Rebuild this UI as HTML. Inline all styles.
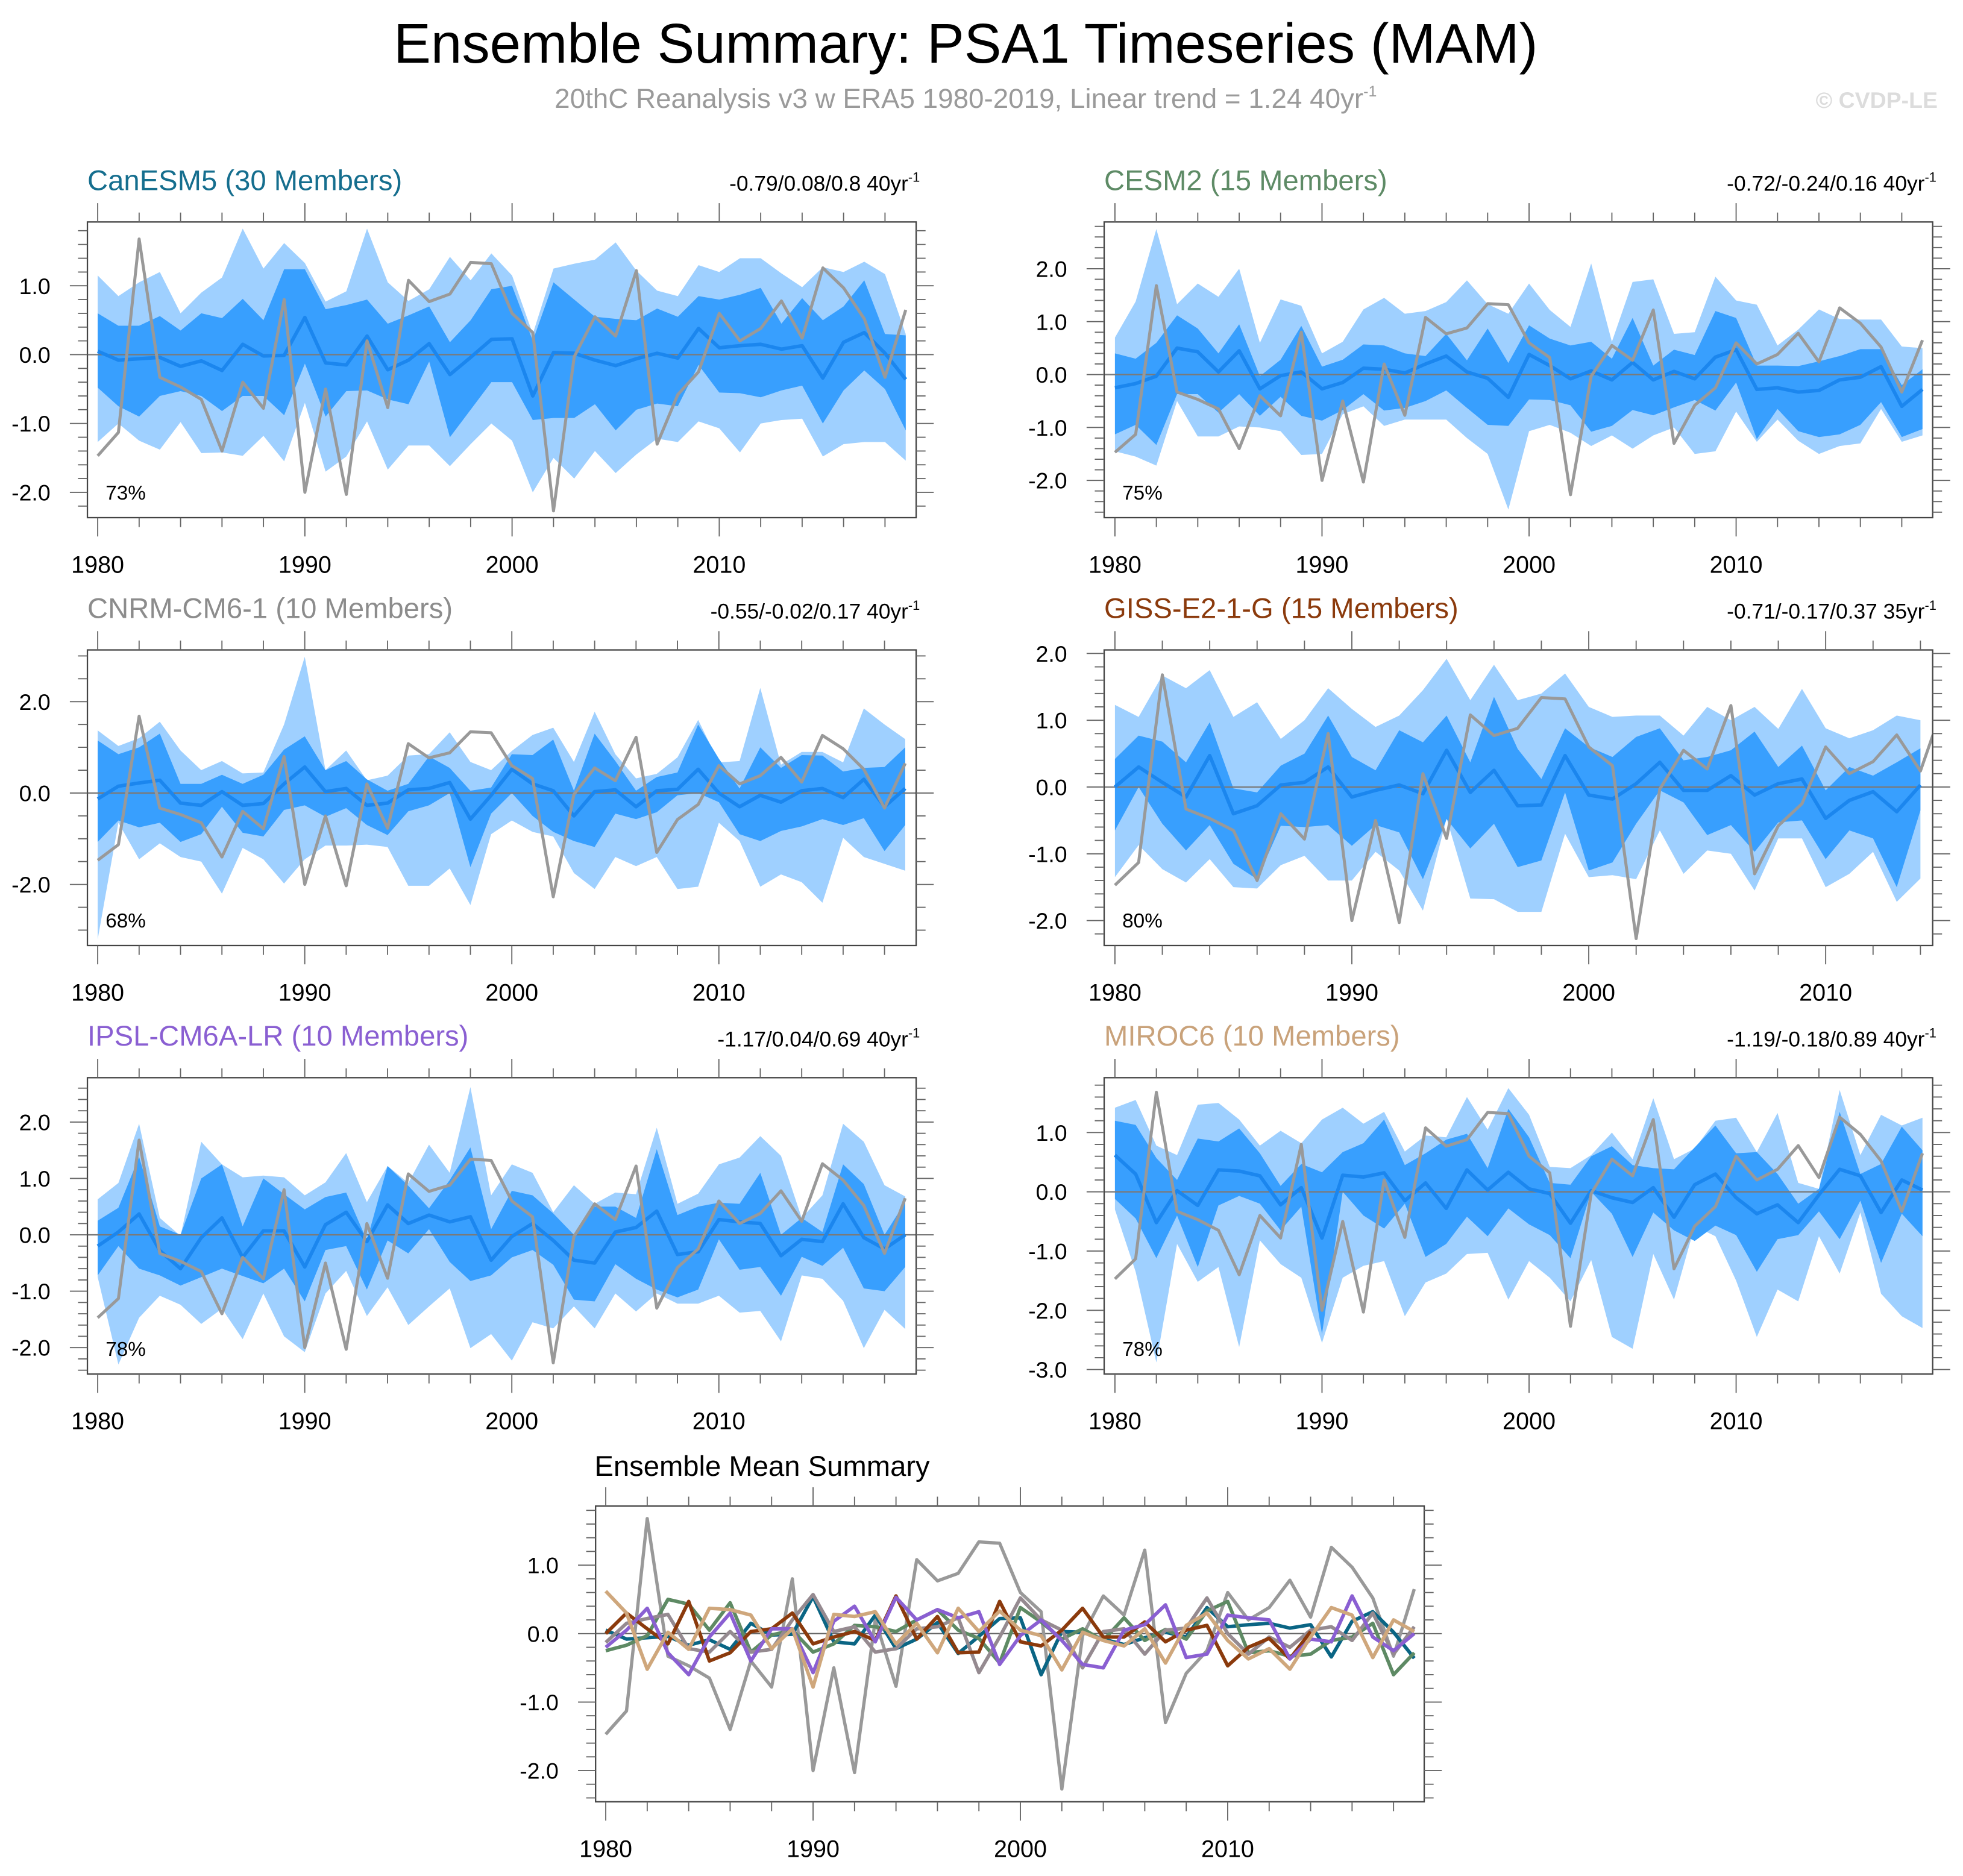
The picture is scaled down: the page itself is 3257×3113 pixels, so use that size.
<!DOCTYPE html>
<html><head><meta charset="utf-8"><style>
html,body{margin:0;padding:0;background:#fff}
svg{display:block}
text{font-family:"Liberation Sans",Arial,sans-serif}
</style></head><body>
<svg id="fig" xmlns="http://www.w3.org/2000/svg" width="3257" height="3113" viewBox="0 0 1565.2 1496">
<rect x="0" y="0" width="1565.2" height="1496" fill="#fff"/>
<text x="770" y="50" font-size="44.5" text-anchor="middle" fill="#000">Ensemble Summary: PSA1 Timeseries (MAM)</text>
<text x="770" y="86" font-size="22" text-anchor="middle" fill="#9a9a9a">20thC Reanalysis v3 w ERA5 1980-2019, Linear trend = 1.24 40yr<tspan dy="-9" font-size="12">-1</tspan></text>
<text x="1545" y="86" font-size="18" font-weight="bold" text-anchor="end" fill="#dcdcdc">© CVDP-LE</text>
<g id="panels"></g>
</svg>
<script>
const years = [1980,1981,1982,1983,1984,1985,1986,1987,1988,1989,1990,1991,1992,1993,1994,1995,1996,1997,1998,1999,2000,2001,2002,2003,2004,2005,2006,2007,2008,2009,2010,2011,2012,2013,2014,2015,2016,2017,2018,2019];
const obs = [-1.47,-1.13,1.68,-0.33,-0.47,-0.65,-1.4,-0.4,-0.78,0.8,-2.0,-0.5,-2.03,0.2,-0.77,1.08,0.77,0.88,1.34,1.32,0.6,0.32,-2.27,-0.03,0.55,0.27,1.22,-1.3,-0.58,-0.25,0.6,0.2,0.38,0.78,0.24,1.26,0.97,0.52,-0.33,0.65];

const canMean = [0.05,-0.08,-0.06,-0.04,-0.17,-0.09,-0.23,0.15,-0.02,-0.01,0.54,-0.12,-0.15,0.27,-0.22,-0.08,0.16,-0.29,-0.04,0.22,0.23,-0.6,0.03,0.02,-0.08,-0.16,-0.06,0.02,-0.05,0.38,0.1,0.13,0.15,0.08,0.13,-0.34,0.18,0.32,0.02,-0.36];
const canHi1 = [0.6,0.42,0.42,0.56,0.35,0.6,0.53,0.81,0.5,1.24,1.24,0.66,0.72,0.8,0.45,0.57,0.7,0.18,0.5,0.95,1.0,0.2,1.05,0.8,0.55,0.52,0.5,0.67,0.55,0.85,0.8,0.87,0.97,0.45,0.82,0.5,0.7,1.08,0.3,0.28];
const canLo1 = [-0.48,-0.75,-0.9,-0.6,-0.53,-0.6,-0.82,-0.6,-0.6,-0.88,-0.13,-0.9,-0.53,-0.52,-0.65,-0.72,-0.1,-1.2,-0.8,-0.4,-0.4,-0.95,-0.92,-0.92,-0.72,-1.1,-0.8,-0.71,-0.75,-0.15,-0.55,-0.56,-0.62,-0.52,-0.45,-1.0,-0.52,-0.23,-0.5,-1.1];
const canHi2 = [1.15,0.85,1.05,1.2,0.6,0.9,1.12,1.83,1.25,1.62,1.33,0.77,0.92,1.83,1.05,0.78,0.95,1.42,1.08,1.47,1.15,0.3,1.25,1.32,1.38,1.63,1.22,0.93,0.85,1.3,1.2,1.4,1.4,1.18,0.98,1.27,1.2,1.35,1.17,0.3];
const canLo2 = [-1.27,-1.0,-1.25,-1.38,-0.98,-1.43,-1.42,-1.47,-1.18,-1.55,-0.7,-1.7,-1.48,-0.97,-1.67,-1.32,-1.32,-1.62,-1.3,-1.0,-1.25,-2.0,-1.5,-1.8,-1.4,-1.72,-1.45,-1.22,-1.27,-0.97,-1.07,-1.42,-1.0,-0.95,-0.93,-1.48,-1.3,-1.27,-1.27,-1.54];

const cesmMean = [-0.25,-0.17,-0.03,0.5,0.43,0.05,0.45,-0.27,-0.02,0.05,-0.27,-0.15,0.12,0.1,0.03,0.2,0.35,0.05,-0.07,-0.43,0.38,0.17,-0.08,0.07,-0.1,0.23,-0.1,0.06,-0.08,0.33,0.47,-0.28,-0.25,-0.33,-0.3,-0.1,-0.05,0.15,-0.6,-0.28];
const cesmHi1 = [0.4,0.3,0.6,1.12,0.87,0.4,0.95,-0.03,0.28,0.92,0.15,0.28,0.57,0.55,0.4,0.35,0.77,0.27,0.87,0.22,0.93,0.68,0.55,0.62,0.3,1.07,0.17,0.47,0.37,1.2,1.07,0.17,0.17,0.16,0.25,0.35,0.48,0.48,-0.2,0.1];
const cesmLo1 = [-1.13,-0.95,-1.33,-0.37,-0.37,-0.72,-0.37,-0.78,-0.42,-0.78,-0.87,-0.67,-0.37,-0.68,-0.63,-0.5,-0.3,-0.63,-0.95,-0.97,-0.47,-0.48,-0.58,-1.08,-0.97,-0.67,-0.77,-0.62,-0.48,-0.68,-0.15,-1.22,-0.65,-1.07,-1.18,-1.13,-0.95,-0.52,-1.18,-1.03];
const cesmHi2 = [0.7,1.38,2.75,1.33,1.72,1.47,2.0,0.6,1.42,1.3,0.4,0.62,1.23,1.45,1.15,1.2,1.37,1.78,1.33,1.15,1.72,1.22,0.9,2.1,0.62,1.75,1.8,0.77,0.8,1.85,1.4,1.32,0.55,0.85,1.23,1.05,1.04,1.04,0.53,0.5];
const cesmLo2 = [-1.45,-1.55,-1.72,-0.5,-1.17,-1.17,-0.98,-1.0,-1.07,-1.52,-1.5,-0.75,-0.6,-0.97,-0.85,-0.85,-0.85,-1.2,-1.5,-2.55,-1.07,-0.95,-1.1,-1.35,-1.15,-1.4,-1.15,-1.0,-1.5,-1.45,-0.7,-1.27,-0.85,-1.25,-1.5,-1.35,-1.3,-0.65,-1.27,-1.15];

const cnrmMean = [-0.13,0.15,0.22,0.28,-0.22,-0.27,0.03,-0.27,-0.23,0.2,0.57,0.03,0.1,-0.27,-0.22,0.07,0.1,0.23,-0.57,-0.05,0.52,0.2,0.05,-0.5,0.03,0.07,-0.3,0.05,0.08,0.52,0.0,-0.3,-0.05,-0.2,0.05,0.1,-0.1,0.3,-0.3,0.1];
const cnrmHi1 = [1.15,0.85,1.0,1.3,0.2,0.2,0.4,0.2,0.4,0.95,1.24,0.5,0.7,0.3,0.05,0.2,0.8,0.55,0.05,0.12,0.85,0.83,1.17,0.05,1.3,0.7,0.05,0.35,0.45,1.5,0.75,0.1,1.0,0.55,0.83,0.82,0.47,0.55,0.57,1.0];
const cnrmLo1 = [-1.07,-0.6,-0.75,-0.65,-1.07,-0.9,-0.3,-0.87,-0.95,-0.37,-0.27,-0.52,-0.33,-0.7,-0.92,-0.4,-0.27,0.0,-1.62,-0.45,0.0,-0.5,-0.85,-1.05,-1.18,-0.45,-0.57,-0.42,-0.05,0.0,-0.2,-0.9,-1.05,-0.83,-0.73,-0.57,-0.7,-0.55,-1.27,-0.7];
const cnrmHi2 = [1.37,1.03,1.2,1.56,0.93,0.5,0.7,0.43,0.45,1.5,2.98,0.5,0.93,0.28,0.38,0.82,0.85,1.33,0.68,0.5,0.92,1.27,1.43,0.68,1.78,0.85,0.32,0.42,0.78,1.6,0.67,0.7,2.3,0.62,0.9,0.9,0.67,1.85,1.5,1.18];
const cnrmLo2 = [-3.2,-0.65,-1.45,-1.1,-1.4,-1.5,-2.2,-1.2,-1.45,-1.98,-1.45,-1.15,-1.15,-1.13,-1.18,-2.03,-2.03,-1.65,-2.45,-0.9,-0.6,-0.85,-0.95,-1.75,-2.1,-1.4,-1.6,-1.4,-2.1,-2.05,-0.65,-1.05,-2.05,-1.78,-1.95,-2.4,-0.98,-1.4,-1.55,-1.7];

const gissMean = [0.0,0.3,0.07,-0.15,0.47,-0.4,-0.28,0.03,0.07,0.3,-0.15,-0.05,0.03,-0.1,0.55,-0.08,0.25,-0.28,-0.27,0.47,-0.12,-0.18,0.05,0.37,-0.05,-0.05,0.17,-0.12,0.05,0.12,-0.47,-0.2,-0.07,-0.37,0.03];
const gissHi1 = [0.42,0.77,0.68,0.37,0.97,-0.02,-0.08,0.32,0.5,1.07,0.45,0.25,0.85,0.67,1.07,0.37,1.35,0.57,0.12,0.88,0.6,0.45,0.75,0.88,0.4,0.45,0.55,0.83,0.3,0.62,-0.05,0.3,0.17,0.37,0.58];
const gissLo1 = [-0.65,0.0,-0.55,-0.95,-0.57,-1.15,-1.38,-0.58,-0.6,-0.57,-0.88,-0.57,-0.68,-1.38,-0.48,-0.92,-0.55,-1.2,-1.1,-0.08,-1.25,-1.13,-0.55,-0.05,-0.23,-0.72,-0.57,-0.97,-0.53,-0.5,-1.08,-0.65,-0.77,-1.5,-0.35];
const gissHi2 = [1.23,1.05,1.67,1.48,1.75,1.05,1.27,0.72,1.0,1.48,1.17,0.9,1.07,1.45,1.92,1.3,1.83,1.3,1.4,1.7,1.2,1.05,1.07,1.07,0.77,1.2,1.0,1.2,0.87,1.47,0.88,0.73,0.85,1.07,1.0];
const gissLo2 = [-1.35,-0.87,-1.23,-1.43,-1.08,-1.5,-1.52,-1.17,-1.03,-1.4,-1.4,-0.97,-1.25,-1.85,-0.47,-1.67,-1.68,-1.87,-1.87,-0.7,-1.35,-1.32,-1.38,-0.65,-1.3,-0.95,-1.0,-1.55,-0.77,-0.77,-1.5,-1.3,-0.97,-1.72,-1.37];

const ipslMean = [-0.2,0.05,0.37,-0.28,-0.6,-0.05,0.3,-0.4,0.07,0.07,-0.57,0.18,0.4,-0.12,0.53,0.2,0.35,0.23,0.32,-0.45,-0.03,0.2,-0.1,-0.45,-0.5,0.05,0.13,0.42,-0.35,-0.3,0.27,0.23,0.2,-0.37,-0.08,-0.12,0.55,-0.05,-0.25,0.0];
const ipslHi1 = [0.25,0.48,1.38,0.15,0.0,1.0,1.25,0.15,1.0,0.72,0.45,0.67,0.75,-0.1,1.22,0.87,0.47,0.97,1.55,0.1,0.78,0.7,0.38,0.0,0.5,0.5,0.3,1.52,0.35,0.5,0.57,0.55,1.1,0.0,0.3,0.05,1.25,0.9,0.0,0.58];
const ipslLo1 = [-0.72,-0.2,-0.6,-0.72,-0.9,-0.75,-0.6,-0.73,-0.86,-0.6,-1.18,-0.27,-0.2,-0.97,-0.1,-0.33,0.1,-0.48,-0.82,-0.72,-0.4,-0.27,-0.53,-1.15,-1.18,-0.52,-0.78,-0.97,-1.11,-0.97,-0.08,-0.62,-0.57,-1.08,-0.39,-0.55,-0.23,-0.95,-1.0,-0.57];
const ipslHi2 = [0.63,0.92,1.97,0.3,-0.02,1.65,1.25,1.02,1.05,1.02,0.7,0.93,1.45,0.58,1.22,0.92,1.6,1.1,2.62,0.7,1.25,1.1,0.4,0.88,0.55,0.75,0.72,1.9,0.55,0.73,1.25,1.37,1.75,1.4,0.3,0.7,1.97,1.65,0.88,0.68];
const ipslLo2 = [-0.75,-2.3,-1.47,-1.08,-1.24,-1.58,-1.31,-1.85,-1.04,-1.8,-2.08,-1.04,-0.64,-1.44,-0.93,-1.6,-1.27,-0.95,-2.01,-1.76,-2.23,-1.55,-1.66,-1.27,-1.66,-1.04,-1.36,-1.04,-1.22,-1.22,-1.08,-1.38,-1.35,-1.89,-0.72,-0.78,-1.17,-2.01,-1.33,-1.67];

const mirocMean = [0.62,0.3,-0.52,0.02,-0.23,0.37,0.35,0.27,-0.22,0.07,-0.78,0.28,0.25,0.32,-0.15,0.15,-0.28,0.37,0.03,0.33,0.05,-0.03,-0.53,0.02,-0.1,-0.18,0.07,-0.43,0.12,0.3,-0.1,-0.37,-0.22,-0.52,-0.05,0.38,0.27,-0.35,0.2,0.03];
const mirocHi1 = [1.2,1.13,0.57,0.2,0.9,0.85,1.07,0.65,0.1,0.47,0.33,0.67,0.82,1.22,0.45,0.65,0.88,0.98,0.4,1.4,0.92,0.15,0.12,0.6,0.77,0.45,0.4,0.38,0.75,1.12,0.65,0.67,0.3,-0.2,0.05,1.35,0.3,0.47,1.1,0.7];
const mirocLo1 = [-0.12,-0.45,-1.12,-0.4,-1.27,-0.23,-0.07,-0.2,-0.65,-0.25,-2.4,0.0,-0.4,-0.62,-0.2,-1.1,-0.88,-0.42,-0.75,-0.28,-0.55,-0.73,-1.12,0.0,-0.37,-1.1,-0.35,-0.65,-0.83,-0.57,-0.73,-1.35,-0.8,-0.73,-0.33,-0.8,-0.15,-1.2,-0.37,-0.75];
const mirocHi2 = [1.42,1.55,0.78,0.62,1.47,1.5,1.22,0.78,1.03,0.82,1.22,1.42,1.15,1.35,0.68,0.95,0.92,1.6,1.05,1.75,1.3,0.42,0.4,0.62,1.0,0.55,1.58,0.55,0.73,1.2,1.25,0.67,1.33,0.15,0.05,1.72,0.62,1.3,1.12,1.25];
const mirocLo2 = [-0.3,-1.35,-2.88,-0.88,-1.52,-1.27,-2.62,-0.82,-1.22,-1.45,-2.55,-1.45,-1.25,-1.17,-2.1,-1.53,-1.38,-1.05,-1.03,-1.82,-1.17,-1.45,-1.85,-1.15,-2.45,-2.65,-1.05,-1.82,-0.58,-0.75,-1.5,-2.45,-1.65,-1.85,-0.75,-1.38,-0.35,-1.72,-2.1,-2.3];

const yTicks1 = [-2.0,-1.0,0.0,1.0];
const yTicks2 = [-2.0,-1.0,0.0,1.0,2.0];
const yTicks3 = [-2.0,0.0,2.0];
const yTicks6 = [-3.0,-2.0,-1.0,0.0,1.0];
const yTicksSum = [-2.0,-1.0,0.0,1.0];
const xTickLabels = [1980,1990,2000,2010];

const NS = "http://www.w3.org/2000/svg";
const root = document.getElementById("panels");
function el(tag, attrs, parent){
  const e = document.createElementNS(NS, tag);
  for (const k in attrs) e.setAttribute(k, attrs[k]);
  (parent||root).appendChild(e);
  return e;
}
function fmt(v){ return v.toFixed(1); }

function drawAxes(g, P, yLabels, minorStep, name){
  const fr = el("rect",{x:P.L,y:P.T,width:P.R-P.L,height:P.B-P.T,fill:"none",stroke:"#444","stroke-width":1.1},g);
  
  
  const xt = el("g",{stroke:"#666","stroke-width":0.9},g);
  
  
  for (let yr=1980; yr<=2019; yr+=2){
    const x = P.xs(yr);
    if (x > P.R+0.5) continue;
    const major = (yr%10===0);
    const len = major?15:7.5;
    el("line",{x1:x,x2:x,y1:P.T,y2:P.T-len},xt);
    el("line",{x1:x,x2:x,y1:P.B,y2:P.B+len},xt);
  }
  xTickLabels.forEach(yr=>{
    const t = el("text",{x:P.xs(yr),y:P.B+44,"font-size":19,"text-anchor":"middle",fill:"#000"},g);
    t.textContent = yr;
    
    
  });
  const yt = el("g",{stroke:"#666","stroke-width":0.9},g);
  
  
  const vTop = (P.y0-P.T)/P.dy, vBot = (P.y0-P.B)/P.dy;
  const k0 = Math.ceil(vBot/minorStep-1e-6), k1 = Math.floor(vTop/minorStep+1e-6);
  for (let k=k0;k<=k1;k++){
    const v = k*minorStep;
    const y = P.ys(v);
    const major = yLabels.some(l=>Math.abs(l-v)<1e-6);
    const len = major?14:7.5;
    el("line",{x1:P.L,x2:P.L-len,y1:y,y2:y},yt);
    el("line",{x1:P.R,x2:P.R+len,y1:y,y2:y},yt);
  }
  yLabels.forEach(v=>{
    const t = el("text",{x:P.L-29.5,y:P.ys(v)+6.5,"font-size":18,"text-anchor":"end",fill:"#000"},g);
    t.textContent = fmt(v);
    
    
  });
}

function linePath(P, vals){
  return vals.map((v,i)=>(i?"L":"M")+P.xs(years[i]).toFixed(2)+","+P.ys(v).toFixed(2)).join(" ");
}
function bandPath(P, hi, lo){
  let d = hi.map((v,i)=>(i?"L":"M")+P.xs(years[i]).toFixed(2)+","+P.ys(v).toFixed(2)).join(" ");
  for (let i=lo.length-1;i>=0;i--) d += " L"+P.xs(years[i]).toFixed(2)+","+P.ys(lo[i]).toFixed(2);
  return d+" Z";
}

function makeP(L,R,T,B,x1980,dxYr,y0,dy){
  return {L,R,T,B,y0,dy,xs:yr=>x1980+(yr-1980)*dxYr,ys:v=>y0-v*dy};
}

let clipN = 0;
function panel(opt){
  const P = opt.P;
  const g = el("g",{});
  
  
  const cid = "clip"+(clipN++);
  const cp = el("clipPath",{id:cid},g);
  el("rect",{x:P.L,y:P.T,width:P.R-P.L,height:P.B-P.T},cp);
  const inner = el("g",{"clip-path":"url(#"+cid+")"},g);
  const b2 = el("path",{d:bandPath(P,opt.hi2,opt.lo2),fill:"#9fd0ff"},inner);
  
  
  const b1 = el("path",{d:bandPath(P,opt.hi1,opt.lo1),fill:"#389ffe"},inner);
  
  
  const z = el("line",{x1:P.L,x2:P.R,y1:P.ys(0),y2:P.ys(0),stroke:"#7a7a7a","stroke-width":1.1},inner);
  
  
  const m = el("path",{d:linePath(P,opt.mean),fill:"none",stroke:"#1b86ee","stroke-width":2.8,"stroke-linejoin":"round"},inner);
  
  
  const o = el("path",{d:linePath(P,obs),fill:"none",stroke:"#999","stroke-width":2.4,"stroke-linejoin":"round"},inner);
  
  
  drawAxes(g,P,opt.yLabels,opt.minor,opt.name);
  const t = el("text",{x:P.L,y:P.T-25.5,"font-size":22.7,fill:opt.color},g);
  t.textContent = opt.title;
  
  
  const s = el("text",{x:P.R+3,y:P.T-25,"font-size":17,"text-anchor":"end",fill:"#000"},g);
  s.textContent = opt.stats;
  const sup = el("tspan",{dy:-7,"font-size":10.5},s);
  sup.textContent = "-1";
  
  
  const pc = el("text",{x:P.L+14.5,y:P.B-14.5,"font-size":16,fill:"#000"},g);
  pc.textContent = opt.pct;
  
  
}

const LX=[69.7,730.5], RX=[880.4,1541];
const row = [[177,412.8],[518.3,754],[859.4,1095.7]];
panel({name:"canesm5",title:"CanESM5 (30 Members)",color:"#156e8e",stats:"-0.79/0.08/0.8 40yr",pct:"73%",
  P:makeP(LX[0],LX[1],row[0][0],row[0][1],77.9,16.52,282.8,54.9),mean:canMean,hi1:canHi1,lo1:canLo1,hi2:canHi2,lo2:canLo2,yLabels:yTicks1,minor:0.2});
panel({name:"cesm2",title:"CESM2 (15 Members)",color:"#5e8b66",stats:"-0.72/-0.24/0.16 40yr",pct:"75%",
  P:makeP(RX[0],RX[1],row[0][0],row[0][1],889,16.51,298.7,42.2),mean:cesmMean,hi1:cesmHi1,lo1:cesmLo1,hi2:cesmHi2,lo2:cesmLo2,yLabels:yTicks2,minor:0.2});
panel({name:"cnrm-cm6-1",title:"CNRM-CM6-1 (10 Members)",color:"#8c8c8c",stats:"-0.55/-0.02/0.17 40yr",pct:"68%",
  P:makeP(LX[0],LX[1],row[1][0],row[1][1],77.9,16.51,632.4,36.45),mean:cnrmMean,hi1:cnrmHi1,lo1:cnrmLo1,hi2:cnrmHi2,lo2:cnrmLo2,yLabels:yTicks3,minor:0.5});
panel({name:"giss-e2-1-g",title:"GISS-E2-1-G (15 Members)",color:"#8b3a0c",stats:"-0.71/-0.17/0.37 35yr",pct:"80%",
  P:makeP(RX[0],RX[1],row[1][0],row[1][1],889,18.89,627.6,53.25),mean:gissMean,hi1:gissHi1,lo1:gissLo1,hi2:gissHi2,lo2:gissLo2,yLabels:yTicks2,minor:0.2});
panel({name:"ipsl-cm6a-lr",title:"IPSL-CM6A-LR (10 Members)",color:"#8a5fd2",stats:"-1.17/0.04/0.69 40yr",pct:"78%",
  P:makeP(LX[0],LX[1],row[2][0],row[2][1],77.9,16.51,984.7,44.97),mean:ipslMean,hi1:ipslHi1,lo1:ipslLo1,hi2:ipslHi2,lo2:ipslLo2,yLabels:yTicks2,minor:0.2});
panel({name:"miroc6",title:"MIROC6 (10 Members)",color:"#c9a27a",stats:"-1.19/-0.18/0.89 40yr",pct:"78%",
  P:makeP(RX[0],RX[1],row[2][0],row[2][1],889,16.51,950.4,47.24),mean:mirocMean,hi1:mirocHi1,lo1:mirocLo1,hi2:mirocHi2,lo2:mirocLo2,yLabels:yTicks6,minor:0.2});

(function(){
  const P = makeP(474.9,1135.6,1201,1436.8,483,16.53,1302.7,54.6);
  const g = el("g",{});
  
  
  const cp = el("clipPath",{id:"clipSum"},g);
  el("rect",{x:P.L,y:P.T,width:P.R-P.L,height:P.B-P.T},cp);
  const inner = el("g",{"clip-path":"url(#clipSum)"},g);
  const z = el("line",{x1:P.L,x2:P.R,y1:P.ys(0),y2:P.ys(0),stroke:"#666","stroke-width":1.1},inner);
  
  
  const o = el("path",{d:linePath(P,obs),fill:"none",stroke:"#999","stroke-width":2.6,"stroke-linejoin":"round"},inner);
  
  
  const series = [["canesm5",canMean,"#0a6584"],["cesm2",cesmMean,"#5e8a64"],["cnrm-cm6-1",cnrmMean,"#958a90"],["giss-e2-1-g",gissMean,"#8b3a0c"],["ipsl-cm6a-lr",ipslMean,"#8a5fd2"],["miroc6",mirocMean,"#cfa77c"]];
  series.forEach(s=>{
    const p = el("path",{d:linePath(P,s[1]),fill:"none",stroke:s[2],"stroke-width":2.8,"stroke-linejoin":"round"},inner);
    
    
  });
  drawAxes(g,P,yTicksSum,0.2,"summary");
  const t = el("text",{x:474,y:1177,"font-size":22.7,fill:"#000"},g);
  t.textContent = "Ensemble Mean Summary";
  
  
})();
</script>
</body></html>
